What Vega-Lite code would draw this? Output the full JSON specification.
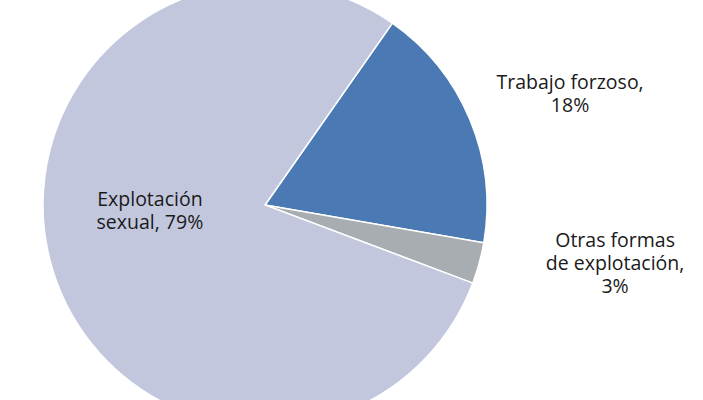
{
  "$schema": "https://vega.github.io/schema/vega-lite/v6.json",
  "width": 530,
  "height": 410,
  "autosize": {"type": "none"},
  "padding": {"left": 0, "top": 0, "right": 173, "bottom": 0},
  "background": "white",
  "config": {"view": {"stroke": null}},
  "data": {
    "values": [
      {"categoria": "Trabajo forzoso", "porcentaje": 18, "etiqueta": "Trabajo forzoso,\n18%"},
      {"categoria": "Otras formas de explotación", "porcentaje": 3, "etiqueta": "Otras formas\nde explotación,\n3%"},
      {"categoria": "Explotación sexual", "porcentaje": 79, "etiqueta": "Explotación\nsexual, 79%"}
    ]
  },
  "encoding": {
    "theta": {"field": "porcentaje", "type": "quantitative", "stack": true, "scale": {"range": [0.6109, 6.8941]}},
    "order": {"field": "categoria", "sort": "descending"}
  },
  "layer": [
    {
      "mark": {"type": "arc", "outerRadius": 222, "stroke": "white", "strokeWidth": 1.5},
      "encoding": {
        "color": {
          "field": "categoria",
          "type": "nominal",
          "legend": null,
          "scale": {
            "domain": ["Trabajo forzoso", "Otras formas de explotación", "Explotación sexual"],
            "range": ["#4A79B3", "#A8ADB1", "#C3C7DE"]
          }
        }
      }
    },
    {
      "mark": {"type": "text", "radius": 325, "dx": 5, "dy": 3, "align": "center", "baseline": "middle", "lineBreak": "\n", "font": "Open Sans", "fontSize": 19.5, "lineHeight": 23, "color": "#1a1a1a"},
      "encoding": {
        "text": {"condition": {"test": "datum.categoria === 'Trabajo forzoso'", "field": "etiqueta"}, "value": ""}
      }
    },
    {
      "mark": {"type": "text", "radius": 340, "dx": 22, "dy": -53, "align": "center", "baseline": "middle", "lineBreak": "\n", "font": "Open Sans", "fontSize": 19.5, "lineHeight": 23, "color": "#1a1a1a"},
      "encoding": {
        "text": {"condition": {"test": "datum.categoria === 'Otras formas de explotación'", "field": "etiqueta"}, "value": ""}
      }
    },
    {
      "mark": {"type": "text", "radius": 110, "dx": -10, "dy": -38, "align": "center", "baseline": "middle", "lineBreak": "\n", "font": "Open Sans", "fontSize": 19.5, "lineHeight": 23, "color": "#1a1a1a"},
      "encoding": {
        "text": {"condition": {"test": "datum.categoria === 'Explotación sexual'", "field": "etiqueta"}, "value": ""}
      }
    }
  ]
}
